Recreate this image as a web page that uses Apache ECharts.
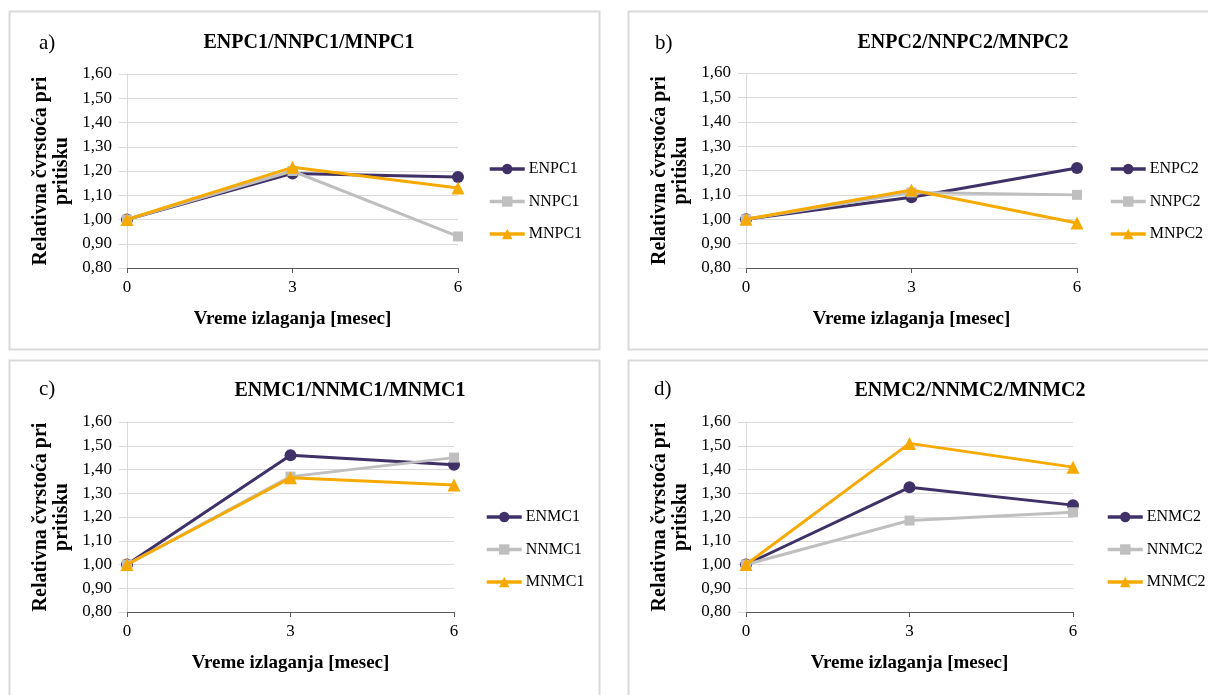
<!DOCTYPE html>
<html>
<head>
<meta charset="utf-8">
<script src="https://cdn.jsdelivr.net/npm/echarts@6/dist/echarts.min.js"></script>
<style>
html,body{margin:0;padding:0;background:#fff;}
#c{width:1208px;height:695px;}
</style>
</head>
<body>
<div id="c"></div>
<script>
const months = ['0', '3', '6'];

const ENPC1 = [1.00, 1.19, 1.175];
const NNPC1 = [1.00, 1.20, 0.93];
const MNPC1 = [1.00, 1.215, 1.13];

const ENPC2 = [1.00, 1.09, 1.21];
const NNPC2 = [1.00, 1.11, 1.10];
const MNPC2 = [1.00, 1.12, 0.985];

const ENMC1 = [1.00, 1.46, 1.42];
const NNMC1 = [1.00, 1.37, 1.45];
const MNMC1 = [1.00, 1.365, 1.335];

const ENMC2 = [1.00, 1.325, 1.25];
const NNMC2 = [1.00, 1.185, 1.22];
const MNMC2 = [1.00, 1.51, 1.41];

const panelLetters = ['a)', 'b)', 'c)', 'd)'];
const panelTitles = ['ENPC1/NNPC1/MNPC1', 'ENPC2/NNPC2/MNPC2', 'ENMC1/NNMC1/MNMC1', 'ENMC2/NNMC2/MNMC2'];
const seriesNames = [
  ['ENPC1', 'NNPC1', 'MNPC1'],
  ['ENPC2', 'NNPC2', 'MNPC2'],
  ['ENMC1', 'NNMC1', 'MNMC1'],
  ['ENMC2', 'NNMC2', 'MNMC2']
];
const seriesData = [
  [ENPC1, NNPC1, MNPC1],
  [ENPC2, NNPC2, MNPC2],
  [ENMC1, NNMC1, MNMC1],
  [ENMC2, NNMC2, MNMC2]
];
const xName = 'Vreme izlaganja [mesec]';
const yName = 'Relativna čvrstoća pri\npritisku';

const FONT = 'Liberation Serif';
const colors = ['#3F3168', '#BFBFBF', '#F6AA00'];
const symbols = ['circle', 'rect', 'triangle'];
const symbolSizes = [12, 10, 13];

// layout
const grids = [
  {left: 127, top: 74, width: 331, height: 194},
  {left: 746, top: 73, width: 331, height: 195},
  {left: 127, top: 422, width: 327, height: 190},
  {left: 746, top: 422, width: 327, height: 190}
];
const titlePos = [[304, 28], [958, 28], [345, 376], [965, 376]];
const letterPos = [[34, 28], [650, 28], [34, 374], [649, 374]];
const legendPos = [[488, 161], [1109, 161], [485, 509], [1106, 509]];
const panels = [
  {x: 9, y: 11, w: 590, h: 338},
  {x: 628, y: 11, w: 600, h: 338},
  {x: 9, y: 360, w: 590, h: 345},
  {x: 628, y: 360, w: 600, h: 345}
];

const fmt = v => v.toFixed(2).replace('.', ',');

const option = {
  backgroundColor: '#fff',
  animation: false,
  textStyle: {fontFamily: FONT},
  graphic: panels.map(p => ({
    type: 'rect', z: -10, silent: true,
    shape: {x: p.x + 0.5, y: p.y + 0.5, width: p.w, height: p.h},
    style: {fill: '#fff', stroke: '#D9D9D9', lineWidth: 2}
  })),
  title: [].concat(
    panelTitles.map((t, i) => ({
      text: t, left: titlePos[i][0], top: titlePos[i][1], textAlign: 'center',
      textStyle: {fontFamily: FONT, fontSize: 20, fontWeight: 'bold', color: '#000'}
    })),
    panelLetters.map((t, i) => ({
      text: t, left: letterPos[i][0], top: letterPos[i][1],
      textStyle: {fontFamily: FONT, fontSize: 21, fontWeight: 'normal', color: '#000'}
    }))
  ),
  legend: seriesNames.map((names, i) => ({
    data: names, orient: 'vertical', padding: 0,
    left: legendPos[i][0], top: legendPos[i][1],
    itemWidth: 35, itemHeight: 13, itemGap: 16.5,
    lineStyle: {width: 3.5},
    textStyle: {fontFamily: FONT, fontSize: 16, color: '#000', lineHeight: 16, padding: [0, 0, 0, -1]}
  })),
  grid: grids.map(g => Object.assign({containLabel: false}, g)),
  xAxis: grids.map((g, i) => ({
    type: 'category', gridIndex: i, data: months, boundaryGap: false,
    name: xName, nameLocation: 'middle', nameGap: 42,
    nameTextStyle: {fontFamily: FONT, fontSize: 19, fontWeight: 'bold', color: '#000'},
    axisLine: {show: true, lineStyle: {color: '#595959', width: 1}},
    axisTick: {show: true, length: 5, lineStyle: {color: '#595959'}},
    axisLabel: {fontFamily: FONT, fontSize: 17, color: '#000', margin: 11},
    splitLine: {show: false}
  })),
  yAxis: grids.map((g, i) => ({
    type: 'value', gridIndex: i, min: 0.8, max: 1.6, interval: 0.1,
    name: yName, nameLocation: 'middle', nameGap: 55, nameRotate: 90,
    nameTextStyle: {fontFamily: FONT, fontSize: 20, fontWeight: 'bold', color: '#000', lineHeight: 21},
    axisLine: {show: true, lineStyle: {color: '#D9D9D9', width: 1}},
    axisTick: {show: true, length: 8, lineStyle: {color: '#D9D9D9'}},
    axisLabel: {fontFamily: FONT, fontSize: 17, color: '#000', margin: 15, formatter: fmt},
    splitLine: {show: true, lineStyle: {color: '#D9D9D9', width: 1}}
  })),
  series: []
};

seriesNames.forEach((names, i) => {
  names.forEach((n, k) => {
    option.series.push({
      type: 'line', name: n, xAxisIndex: i, yAxisIndex: i,
      data: seriesData[i][k],
      color: colors[k],
      symbol: symbols[k], symbolSize: symbolSizes[k], showSymbol: true,
      lineStyle: {width: 3, color: colors[k]},
      itemStyle: {color: colors[k]},
      z: 2 + k
    });
  });
});

const chart = echarts.init(document.getElementById('c'), null, {renderer: 'canvas'});
chart.setOption(option);
</script>
</body>
</html>
